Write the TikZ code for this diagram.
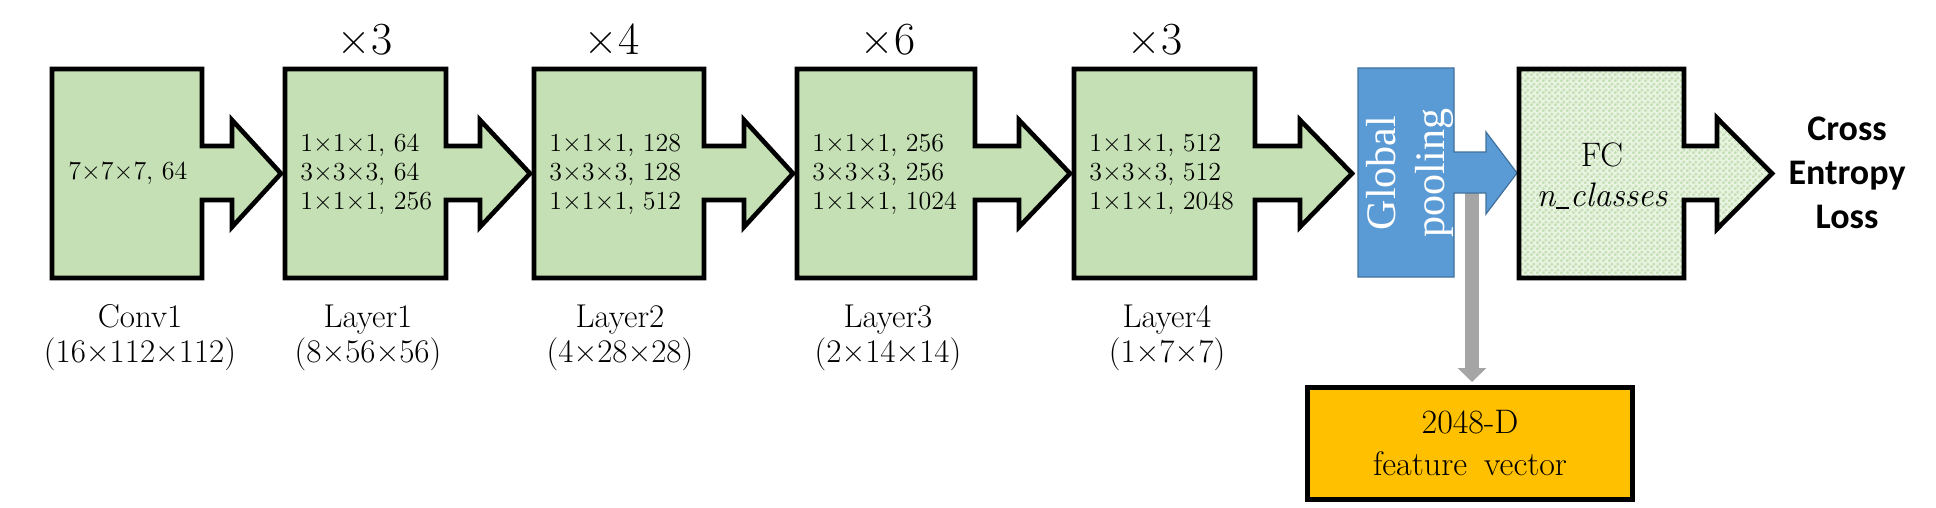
\documentclass[tikz,border=0pt]{standalone}
\usepackage{fontspec}
\newfontfamily\carlito{Carlito}
\newfontfamily\libserif{Liberation Serif}
\usetikzlibrary{arrows.meta,patterns.meta}
\definecolor{blkgreen}{HTML}{C5E0B4}
\definecolor{poolblue}{HTML}{5B9BD5}
\definecolor{poolborder}{HTML}{41719C}
\definecolor{featorange}{HTML}{FFC000}
\definecolor{linkgray}{HTML}{A5A5A5}
\tikzdeclarepattern{name=fcdots, type=uncolored,
  bounding box={(0pt,0pt) and (3pt,3pt)}, tile size={(3pt,3pt)},
  code={\fill (0.75pt,0.75pt) circle (1pt); \fill (2.25pt,2.25pt) circle (1pt);}}
\newcommand\blockarrow[4]{%
  \filldraw[blockline] (#1,69) -- (#2,69) -- (#2,146) -- (#3,146) -- (#3,120) -- (#4,173.5) -- (#3,227) -- (#3,200) -- (#2,200) -- (#2,278) -- (#1,278) -- cycle;}
\newcommand\shortus{\kern0.03em\rule[-0.06em]{0.38em}{0.055em}\kern0.03em}
\begin{document}
\begin{tikzpicture}[x=0.5pt,y=-0.5pt,
  blockline/.style={fill=blkgreen,draw=black,line width=2.3pt,line join=miter},
  inner/.style={anchor=west,inner sep=0pt,align=left,font=\fontsize{13}{14.5}\selectfont},
  reps/.style={inner sep=0pt,anchor=base,font=\fontsize{23}{26}\selectfont},
  lbl/.style={inner sep=0pt,align=center,font=\fontsize{16.5}{17.5}\selectfont}]
\useasboundingbox[fill=white] (0,0) rectangle (1936,508);

% green blocks
\blockarrow{52}{202}{232}{281}
\blockarrow{285}{446}{480}{530}
\blockarrow{534}{704}{744}{793}
\blockarrow{797}{975}{1019}{1070}
\blockarrow{1074}{1255}{1300}{1352}

\node[inner] (t0) at (68,173.5) {7×7×7, 64};
\node[inner] (t1) at (300,174) {1×1×1, 64\\3×3×3, 64\\1×1×1, 256};
\node[inner] (t2) at (549,174) {1×1×1, 128\\3×3×3, 128\\1×1×1, 512};
\node[inner] (t3) at (812,174) {1×1×1, 256\\3×3×3, 256\\1×1×1, 1024};
\node[inner] (t4) at (1089,174) {1×1×1, 512\\3×3×3, 512\\1×1×1, 2048};

\node[reps] (r1) at (365,55) {×3};
\node[reps] (r2) at (612,55) {×4};
\node[reps] (r3) at (888,55) {×6};
\node[reps] (r4) at (1155,55) {×3};

\node[lbl] (l0) at (140,338) {Conv1\\(16×112×112)};
\node[lbl] (l1) at (368,338) {Layer1\\(8×56×56)};
\node[lbl] (l2) at (620,338) {Layer2\\(4×28×28)};
\node[lbl] (l3) at (888,338) {Layer3\\(2×14×14)};
\node[lbl] (l4) at (1167,338) {Layer4\\(1×7×7)};

% feature vector box
\node[draw=black,line width=2.5pt,fill=featorange,minimum width=162.5pt,minimum height=56pt,
  inner sep=0pt,align=center,font=\fontsize{17}{21}\selectfont] (feat) at (1470,443.5)
  {2048-D\\feature\hspace{0.5em}vector};

% gray link
\coordinate (gpout) at (1472,193);
\draw[linkgray,line width=7pt,-{Triangle[width=14pt,length=7pt]},shorten >=1.5pt]
  (gpout) -- (gpout |- feat.north);

% global pooling
\filldraw[fill=poolblue,draw=poolborder,line width=0.6pt,line join=miter]
  (1358,68) -- (1454,68) -- (1454,152) -- (1486,152) -- (1486,132) -- (1517,173) -- (1486,214)
  -- (1486,193) -- (1454,193) -- (1454,277) -- (1358,277) -- cycle;
\node[rotate=90,text=white,align=center,inner sep=0pt,
  font=\libserif\fontsize{21}{24.5}\selectfont] (gpt) at (1410,173) {Global\\pooling};

% FC
\fill[blkgreen!40!white] (1519,69) -- (1684,69) -- (1684,146) -- (1717,146) -- (1717,118) -- (1772,173.5)
  -- (1717,229) -- (1717,200) -- (1684,200) -- (1684,278) -- (1519,278) -- cycle;
\fill[pattern=fcdots,pattern color=blkgreen] (1519,69) -- (1684,69) -- (1684,146) -- (1717,146) -- (1717,118) -- (1772,173.5)
  -- (1717,229) -- (1717,200) -- (1684,200) -- (1684,278) -- (1519,278) -- cycle;
\draw[line width=2.3pt,line join=miter] (1519,69) -- (1684,69) -- (1684,146) -- (1717,146) -- (1717,118) -- (1772,173.5)
  -- (1717,229) -- (1717,200) -- (1684,200) -- (1684,278) -- (1519,278) -- cycle;
\node[align=center,inner sep=0pt,font=\fontsize{17}{20}\selectfont] (fct) at (1602,176)
  {FC\\\textit{n\shortus classes}};

\node[align=center,inner sep=0pt,font=\carlito\bfseries\fontsize{18}{22}\selectfont] (cel)
  at (1847,173) {Cross\\Entropy\\Loss};
\end{tikzpicture}
\end{document}
